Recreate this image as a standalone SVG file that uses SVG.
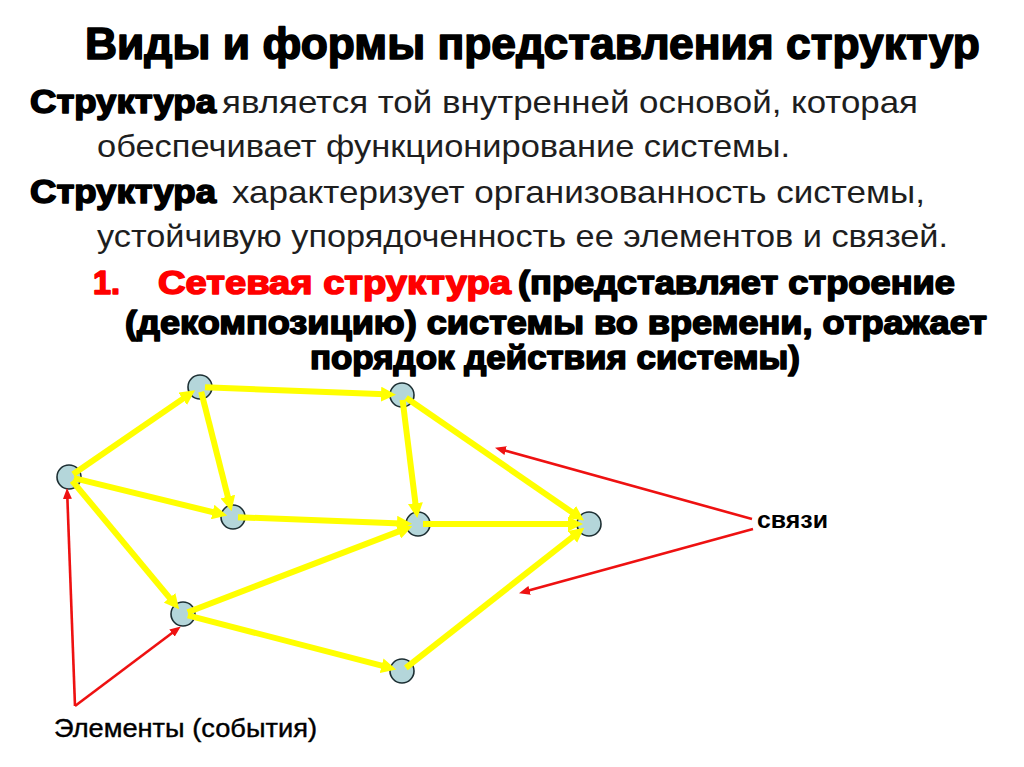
<svg xmlns="http://www.w3.org/2000/svg" width="1024" height="767" viewBox="0 0 1024 767">
<style>
.heavy{font-family:"Liberation Sans",Arial,sans-serif;font-weight:bold;stroke:currentColor;stroke-width:1.6;stroke-linejoin:round;paint-order:stroke}
.reg{font-family:"Liberation Sans",Arial,sans-serif;fill:#1e1e1e}
.blk{fill:#000;color:#000}
.red{fill:#ff0000;color:#ff0000}
.node{fill:#b4d6da;stroke:#1d2f33;stroke-width:1.6}
.y{stroke:#ffff00;stroke-width:6;fill:none;marker-end:url(#ya)}
.r{stroke:#ee1111;stroke-width:2.6;fill:none;marker-end:url(#ra)}
.lbl{font-family:"Liberation Sans",Arial,sans-serif;fill:#000}
</style>
<defs>
<marker id="ya" markerUnits="userSpaceOnUse" markerWidth="15" markerHeight="15" refX="4" refY="7.5" orient="auto"><path d="M0,0 L15,7.5 L0,15 z" fill="#ffff00"/></marker>
<marker id="ra" markerUnits="userSpaceOnUse" markerWidth="11" markerHeight="9" refX="3" refY="4.5" orient="auto"><path d="M0,0 L11,4.5 L0,9 z" fill="#ee1111"/></marker>
</defs>
<rect width="1024" height="767" fill="#fff"/>
<g id="title">
<text class="heavy blk" x="532.5" y="59" text-anchor="middle" font-size="45" stroke-width="2.6" textLength="895" lengthAdjust="spacingAndGlyphs">Виды и формы представления структур</text>
</g>
<g id="body">
<text class="heavy blk" x="30" y="113" font-size="33" textLength="186" lengthAdjust="spacingAndGlyphs">Структура</text>
<text class="reg" x="222" y="113" font-size="32" textLength="696" lengthAdjust="spacingAndGlyphs">является той внутренней основой, которая</text>
<text class="reg" x="97" y="157" font-size="32" textLength="693" lengthAdjust="spacingAndGlyphs">обеспечивает функционирование системы.</text>
<text class="heavy blk" x="30" y="203" font-size="33" textLength="186" lengthAdjust="spacingAndGlyphs">Структура</text>
<text class="reg" x="232" y="203" font-size="32" textLength="693" lengthAdjust="spacingAndGlyphs">характеризует организованность системы,</text>
<text class="reg" x="97" y="247" font-size="32" textLength="851" lengthAdjust="spacingAndGlyphs">устойчивую упорядоченность ее элементов и связей.</text>
<text class="heavy red" x="93" y="294" font-size="33" textLength="27" lengthAdjust="spacingAndGlyphs">1.</text>
<text class="heavy red" x="158" y="294" font-size="33" textLength="353" lengthAdjust="spacingAndGlyphs">Сетевая структура</text>
<text class="heavy blk" x="518" y="294" font-size="33" textLength="437" lengthAdjust="spacingAndGlyphs">(представляет строение</text>
<text class="heavy blk" x="125" y="334" font-size="33" textLength="862" lengthAdjust="spacingAndGlyphs">(декомпозицию) системы во времени, отражает</text>
<text class="heavy blk" x="310" y="369" font-size="33" textLength="490" lengthAdjust="spacingAndGlyphs">порядок действия системы)</text>
</g>
<g id="nodes">
<circle id="nA" class="node" cx="69" cy="477" r="12"/>
<circle id="nB" class="node" cx="200" cy="387" r="12"/>
<circle id="nC" class="node" cx="233" cy="517" r="12"/>
<circle id="nD" class="node" cx="183" cy="614" r="12"/>
<circle id="nE" class="node" cx="402" cy="395" r="12"/>
<circle id="nF" class="node" cx="418" cy="524" r="12"/>
<circle id="nG" class="node" cx="589" cy="524" r="12"/>
<circle id="nH" class="node" cx="402" cy="671" r="12"/>
</g>
<g id="connectors">
<line class="y" x1="73.1" y1="474.2" x2="186.0" y2="396.6"/>
<line class="y" x1="73.9" y1="478.2" x2="216.5" y2="513.0"/>
<line class="y" x1="72.2" y1="480.8" x2="172.1" y2="600.9"/>
<line class="y" x1="205" y1="387.2" x2="385.0" y2="394.3"/>
<line class="y" x1="201.2" y1="391.8" x2="228.8" y2="500.5"/>
<line class="y" x1="402.6" y1="400" x2="415.9" y2="507.1"/>
<line class="y" x1="406.1" y1="397.8" x2="575.0" y2="514.3"/>
<line class="y" x1="238" y1="517.2" x2="401.0" y2="523.4"/>
<line class="y" x1="187.7" y1="612.2" x2="402.1" y2="530.1"/>
<line class="y" x1="423" y1="524" x2="572" y2="524"/>
<line class="y" x1="187.8" y1="615.3" x2="385.5" y2="666.7"/>
<line class="y" x1="405.9" y1="667.9" x2="575.6" y2="534.5"/>
<line class="r" x1="75" y1="706" x2="67.3" y2="496"/>
<line class="r" x1="75" y1="706" x2="174.4" y2="631.2"/>
<line class="r" x1="752" y1="519" x2="502.7" y2="449.9"/>
<line class="r" x1="753" y1="529" x2="526.7" y2="591.1"/>
</g>
<g id="labels">
<text class="lbl" x="757" y="528" font-size="24" font-weight="bold" textLength="71" lengthAdjust="spacingAndGlyphs">связи</text>
<text class="lbl" x="54" y="737" font-size="25" stroke="#000" stroke-width="0.4" textLength="263" lengthAdjust="spacingAndGlyphs">Элементы (события)</text>
</g>
</svg>
